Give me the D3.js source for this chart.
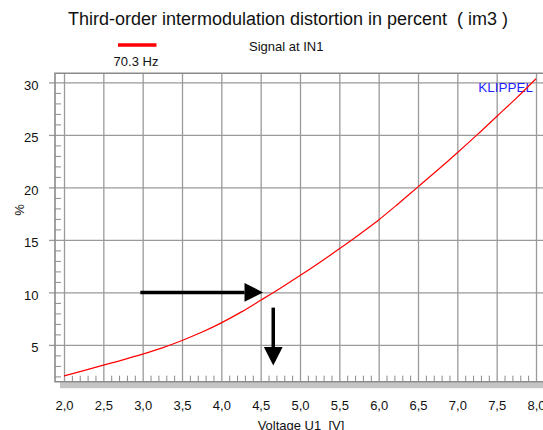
<!DOCTYPE html>
<html>
<head>
<meta charset="utf-8">
<script src="https://cdn.jsdelivr.net/npm/d3@7"></script>
<style>
  html, body { margin: 0; padding: 0; background: #fff; }
  svg { display: block; font-family: "Liberation Sans", Arial, sans-serif; }
  svg text { white-space: pre; }
  .grid line { stroke: #9a9a9a; stroke-width: 1.3; }
  .minor line { stroke: #8a8a8a; stroke-width: 1; }
  .lbl text { font-size: 13px; fill: #111; }
</style>
</head>
<body>
<svg id="chart" width="543" height="430"></svg>
<script>
// ---- data ----
const voltage = [2.0, 2.25, 2.5, 2.75, 3.0, 3.25, 3.5, 3.75, 4.0, 4.25, 4.5, 4.75,
                 5.0, 5.25, 5.5, 5.75, 6.0, 6.25, 6.5, 6.75, 7.0, 7.25, 7.5, 7.75, 8.0];
const im3Percent = [2.05, 2.55, 3.08, 3.58, 4.12, 4.72, 5.42, 6.2, 7.1, 8.12, 9.25, 10.4,
                    11.6, 12.85, 14.15, 15.5, 16.9, 18.45, 20.05, 21.65, 23.3, 25.0, 26.75, 28.5, 30.35];
const xTicks = [2.0, 2.5, 3.0, 3.5, 4.0, 4.5, 5.0, 5.5, 6.0, 6.5, 7.0, 7.5, 8.0];
const yTicks = [5, 10, 15, 20, 25, 30];
const xMinor = d3.range(20, 81).map(d => d / 10).filter(d => Math.round(d * 10) % 5 !== 0);
const yMinor = d3.range(2, 31).filter(d => d % 5 !== 0);
// annotation arrows (data units): reading 10 % off the curve
const arrows = [
    { from: [2.97, 10], to: [4.53, 10] },
    { from: [4.66, 8.55], to: [4.66, 3.03] }
];

const svg = d3.select('#chart');

// plot frame (pixels)
const frame = { left: 55, right: 545, top: 73.3, bottom: 381.7 };

const x = d3.scaleLinear().domain([2, 8]).range([64, 536]);
const y = d3.scaleLinear().domain([0, 30]).range([397.4, 82.4]);

/* ---- title & legend ---- */
svg.append('text')
    .attr('x', 288).attr('y', 25)
    .attr('text-anchor', 'middle')
    .style('font-size', '18px').attr('fill', '#111')
    .text('Third-order intermodulation distortion in percent  ( im3 )');

svg.append('line')
    .attr('x1', 118).attr('x2', 156.5).attr('y1', 45).attr('y2', 45)
    .attr('stroke', '#ff0000').attr('stroke-width', 3.5);
svg.append('text')
    .attr('x', 136).attr('y', 66).attr('text-anchor', 'middle')
    .style('font-size', '13px').attr('fill', '#111')
    .text('70.3 Hz');
svg.append('text')
    .attr('x', 249).attr('y', 51)
    .style('font-size', '13px').attr('fill', '#111')
    .text('Signal at IN1');

/* ---- gridlines ---- */
svg.append('g')
    .attr('class', 'grid')
    .attr('transform', `translate(0,${frame.bottom})`)
    .call(d3.axisBottom(x).tickValues(xTicks).tickSize(-(frame.bottom - frame.top)).tickFormat(''))
    .call(g => g.select('.domain').remove());

svg.append('g')
    .attr('class', 'grid')
    .attr('transform', `translate(${frame.left},0)`)
    .call(d3.axisLeft(y).tickValues(yTicks).tickSize(6).tickFormat(''))
    .call(g => g.select('.domain').remove())
    .call(g => g.selectAll('.tick').append('line').attr('x2', frame.right - frame.left));

/* ---- minor ticks ---- */
svg.append('g')
    .attr('class', 'minor')
    .attr('transform', `translate(0,${frame.bottom})`)
    .call(d3.axisBottom(x).tickValues(xMinor).tickSize(-6).tickFormat(''))
    .call(g => g.select('.domain').remove());

svg.append('g')
    .attr('class', 'minor')
    .attr('transform', `translate(${frame.left},0)`)
    .call(d3.axisLeft(y).tickValues(yMinor).tickSize(-6).tickFormat(''))
    .call(g => g.select('.domain').remove());

/* ---- frame ---- */
svg.append('rect')
    .attr('x', 60).attr('y', frame.bottom + 0.5)
    .attr('width', frame.right - 60).attr('height', 6)
    .attr('fill', '#c4c4c4');
svg.append('path')
    .attr('d', `M${frame.right},${frame.top} H${frame.left} V${frame.bottom} H${frame.right}`)
    .attr('fill', 'none').attr('stroke', '#8a8a8a').attr('stroke-width', 1.6);

/* ---- tick labels ---- */
svg.append('g')
    .attr('class', 'lbl')
    .attr('transform', `translate(${frame.left},0)`)
    .call(d3.axisLeft(y).tickValues(yTicks).tickSize(6).tickPadding(10.5))
    .call(g => g.select('.domain').remove())
    .call(g => g.selectAll('.tick line').remove())
    .call(g => g.selectAll('text').attr('dy', '0.52em'));

svg.append('g')
    .attr('class', 'lbl')
    .attr('transform', `translate(0,${frame.bottom})`)
    .call(d3.axisBottom(x).tickValues(xTicks).tickSize(0).tickPadding(19)
        .tickFormat(d => d.toFixed(1).replace('.', ',')))
    .call(g => g.select('.domain').remove());

svg.append('text')
    .attr('x', 301).attr('y', 429.5).attr('text-anchor', 'middle')
    .style('font-size', '13px').attr('fill', '#111')
    .text('Voltage U1  [V]');

svg.append('text')
    .attr('transform', 'translate(24,210) rotate(-90)')
    .attr('text-anchor', 'middle')
    .style('font-size', '13px').attr('fill', '#111')
    .text('%');

svg.append('text')
    .attr('x', 533).attr('y', 92).attr('text-anchor', 'end')
    .style('font-size', '13.5px').attr('fill', '#1f1fff')
    .text('KLIPPEL');

/* ---- curve ---- */
const series = voltage.map((v, i) => [v, im3Percent[i]]);
svg.append('path')
    .datum(series)
    .attr('fill', 'none')
    .attr('stroke', '#ff0000')
    .attr('stroke-width', 1.2)
    .attr('d', d3.line().x(d => x(d[0])).y(d => y(d[1])).curve(d3.curveMonotoneX));

/* ---- arrows ---- */
const headLen = 18.5, headHalf = 9.4;
arrows.forEach(a => {
    const x1 = x(a.from[0]), y1 = y(a.from[1]);
    const x2 = x(a.to[0]), y2 = y(a.to[1]);
    const len = Math.hypot(x2 - x1, y2 - y1);
    const ux = (x2 - x1) / len, uy = (y2 - y1) / len;
    const bx = x2 - ux * headLen, by = y2 - uy * headLen;
    svg.append('line')
        .attr('x1', x1).attr('y1', y1).attr('x2', bx).attr('y2', by)
        .attr('stroke', '#000').attr('stroke-width', 3.5);
    svg.append('path')
        .attr('d', `M${x2},${y2} L${bx - uy * headHalf},${by + ux * headHalf} L${bx + uy * headHalf},${by - ux * headHalf} Z`)
        .attr('fill', '#000');
});
</script>
</body>
</html>
